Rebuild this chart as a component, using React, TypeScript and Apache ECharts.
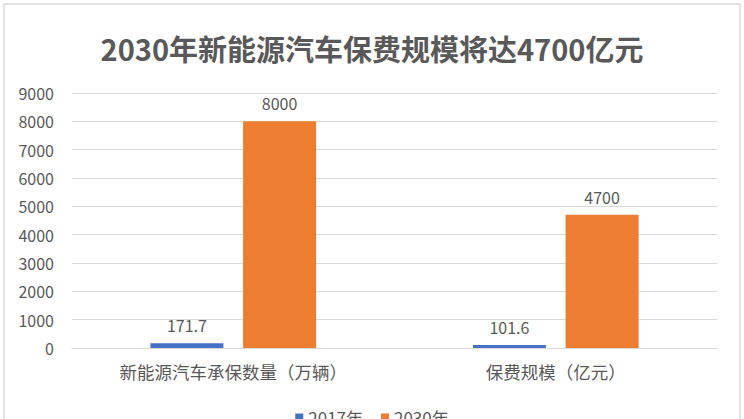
import { useEffect, useRef } from 'react';
import * as echarts from 'echarts';
import type { EChartsOption } from 'echarts';

const title = '2030年新能源汽车保费规模将达4700亿元';
const categories = ['新能源汽车承保数量（万辆）', '保费规模（亿元）'];
const seriesNames = ['2017年', '2030年'];
const values2017 = [171.7, 101.6];
const values2030 = [8000, 4700];
const yTicks = { min: 0, max: 9000, interval: 1000 };

const FONT = '"Noto Sans CJK SC", "Noto Sans", sans-serif';
const TEXT = '#595959';

export default function App() {
  const chartRef = useRef<HTMLDivElement>(null);

  useEffect(() => {
    if (!chartRef.current) return;
    const chart = echarts.init(chartRef.current, undefined, { renderer: 'svg' });

    const barLabel = {
      show: true,
      position: 'top' as const,
      distance: 10,
      color: TEXT,
      fontSize: 16,
      fontFamily: FONT,
    };

    const option: EChartsOption = {
      animation: false,
      backgroundColor: '#fff',
      textStyle: { fontFamily: FONT },
      title: {
        text: title,
        left: 'center',
        top: 28,
        textStyle: {
          color: TEXT,
          fontSize: 29,
          fontWeight: 'bold',
          fontFamily: FONT,
        },
      },
      graphic: [
        {
          type: 'rect',
          shape: { x: 4, y: 4, width: 736, height: 440 },
          style: { fill: 'none', stroke: '#d9d9d9', lineWidth: 1.5 },
          silent: true,
        },
      ],
      legend: {
        data: seriesNames,
        top: 404,
        left: 'center',
        itemWidth: 8,
        itemHeight: 8,
        itemGap: 18,
        icon: 'rect',
        textStyle: { color: TEXT, fontSize: 17, fontFamily: FONT },
      },
      grid: {
        left: 72,
        right: 27,
        top: 93,
        bottom: 71,
        containLabel: false,
      },
      xAxis: {
        type: 'category',
        data: categories,
        axisLine: { lineStyle: { color: '#d9d9d9', width: 1 } },
        axisTick: { show: false },
        axisLabel: {
          color: TEXT,
          fontSize: 17.5,
          margin: 15,
          fontFamily: FONT,
        },
      },
      yAxis: {
        type: 'value',
        min: yTicks.min,
        max: yTicks.max,
        interval: yTicks.interval,
        axisLine: { show: false },
        axisTick: { show: false },
        axisLabel: {
          color: TEXT,
          fontSize: 16,
          margin: 18,
          fontFamily: FONT,
          formatter: (v: number) => String(v),
        },
        splitLine: { lineStyle: { color: '#d9d9d9', width: 1 } },
      },
      series: [
        {
          name: seriesNames[0],
          type: 'bar',
          data: values2017,
          barWidth: 73,
          barGap: '27%',
          itemStyle: { color: '#4472C4' },
          label: barLabel,
        },
        {
          name: seriesNames[1],
          type: 'bar',
          data: values2030,
          barWidth: 73,
          barGap: '27%',
          itemStyle: { color: '#ED7D31' },
          label: barLabel,
        },
      ],
    };

    chart.setOption(option);

    return () => {
      chart.dispose();
    };
  }, []);

  return (
    <div style={{ position: 'fixed', left: 0, top: 0, width: 744, height: 419, background: '#fff' }}>
      <div ref={chartRef} style={{ width: 744, height: 419 }} />
    </div>
  );
}
